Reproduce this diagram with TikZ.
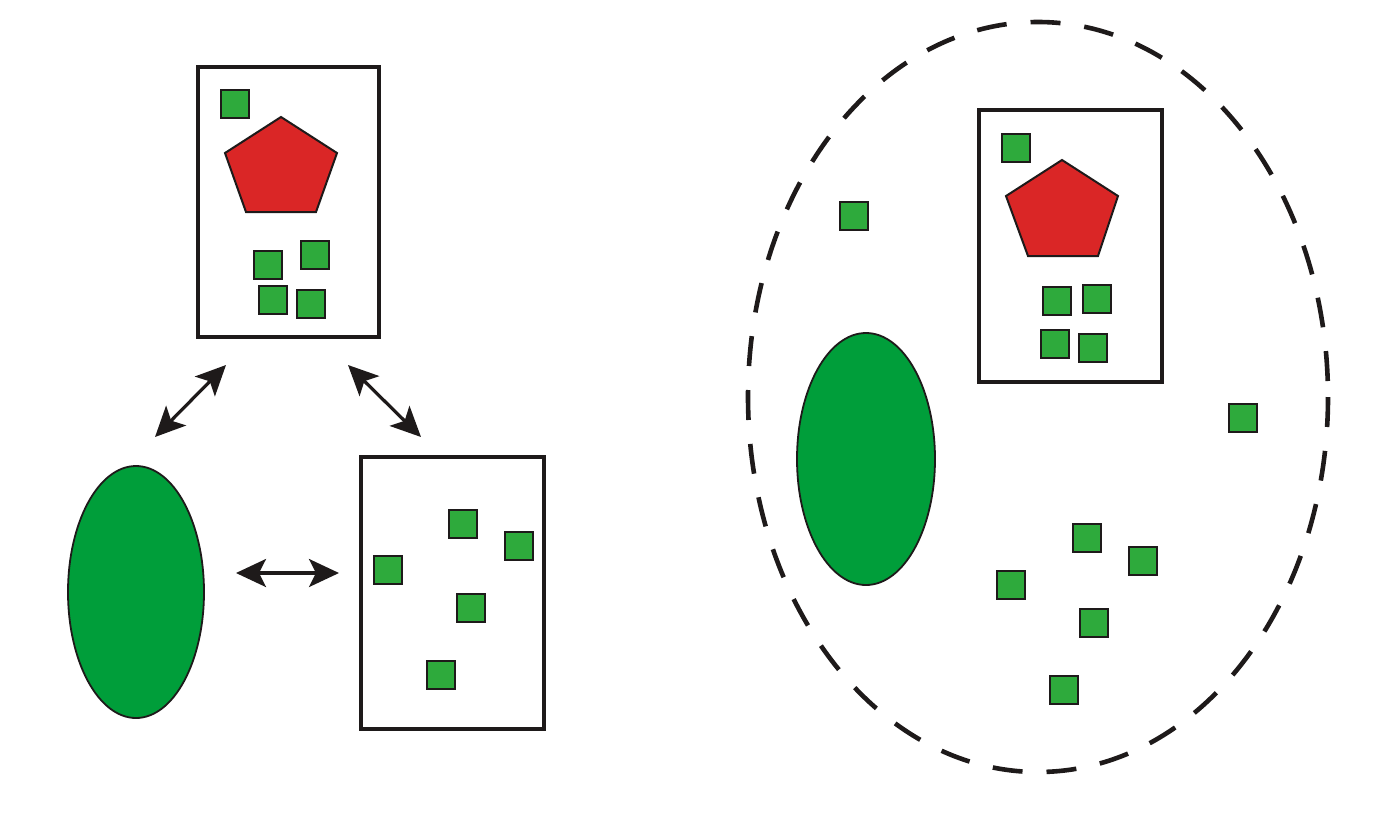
\documentclass[tikz,border=0pt]{standalone}
\usetikzlibrary{arrows.meta}
\definecolor{sqgreen}{RGB}{46,170,60}
\definecolor{ellgreen}{RGB}{0,158,58}
\definecolor{pentred}{RGB}{218,38,38}
\definecolor{ink}{RGB}{30,26,26}
\tikzset{
  frame/.style={draw=ink,line width=4.8pt,fill=white},
  sq/.style={draw=ink,line width=2.2pt,fill=sqgreen,minimum size=28pt,inner sep=0pt,outer sep=0pt},
  cell/.style={draw=ink,line width=1.8pt,fill=ellgreen},
  pent/.style={draw=ink,line width=2pt,fill=pentred},
  dbl/.style={draw=ink,line width=3.2pt,{Stealth[length=30pt,width=28pt,inset=7pt]}-{Stealth[length=30pt,width=28pt,inset=7pt]}},
  dashring/.style={draw=ink,line width=4.6pt,dash pattern=on 30pt off 24pt}
}
\begin{document}
\begin{tikzpicture}[x=1pt,y=-1pt]
\useasboundingbox (0,0) rectangle (1396,828);
% ---------- left part ----------
\draw[frame] (198,67) rectangle (379,337);
\draw[pent] (281,117) -- (337,153) -- (316,212) -- (246,212) -- (225,153) -- cycle;
\node[sq] (a1) at (235,104) {};
\node[sq] (a2) at (268,265) {};
\node[sq] (a3) at (315,255) {};
\node[sq] (a4) at (273,300) {};
\node[sq] (a5) at (311,304) {};

\draw[frame] (361,457) rectangle (544,729);
\node[sq] (b1) at (463,524) {};
\node[sq] (b2) at (519,546) {};
\node[sq] (b3) at (388,570) {};
\node[sq] (b4) at (471,608) {};
\node[sq] (b5) at (441,675) {};

\draw[cell] (136,592) ellipse [x radius=68, y radius=126];

\coordinate (l1) at (155,437);
\coordinate (l2) at (226,365);
\coordinate (r1) at (348,365);
\coordinate (r2) at (421,437);
\coordinate (h1) at (236,573);
\coordinate (h2) at (339,573);
\draw[dbl] (l1) -- (l2);
\draw[dbl] (r1) -- (r2);
\draw[dbl] (h1) -- (h2);

% ---------- right part ----------
\draw[dashring] (1038,397) ellipse [x radius=290, y radius=375];
\draw[frame] (979,110) rectangle (1162,382);
\draw[pent] (1062,160) -- (1118,196) -- (1098,256) -- (1028,256) -- (1006,196) -- cycle;
\node[sq] (c1) at (1016,148) {};
\node[sq] (c2) at (1057,301) {};
\node[sq] (c3) at (1097,299) {};
\node[sq] (c4) at (1055,344) {};
\node[sq] (c5) at (1093,348) {};

\draw[cell] (866,459) ellipse [x radius=69, y radius=126];

\node[sq] (d1) at (854,216) {};
\node[sq] (d2) at (1243,418) {};
\node[sq] (d3) at (1087,538) {};
\node[sq] (d4) at (1143,561) {};
\node[sq] (d5) at (1011,585) {};
\node[sq] (d6) at (1094,623) {};
\node[sq] (d7) at (1064,690) {};
\end{tikzpicture}
\end{document}
